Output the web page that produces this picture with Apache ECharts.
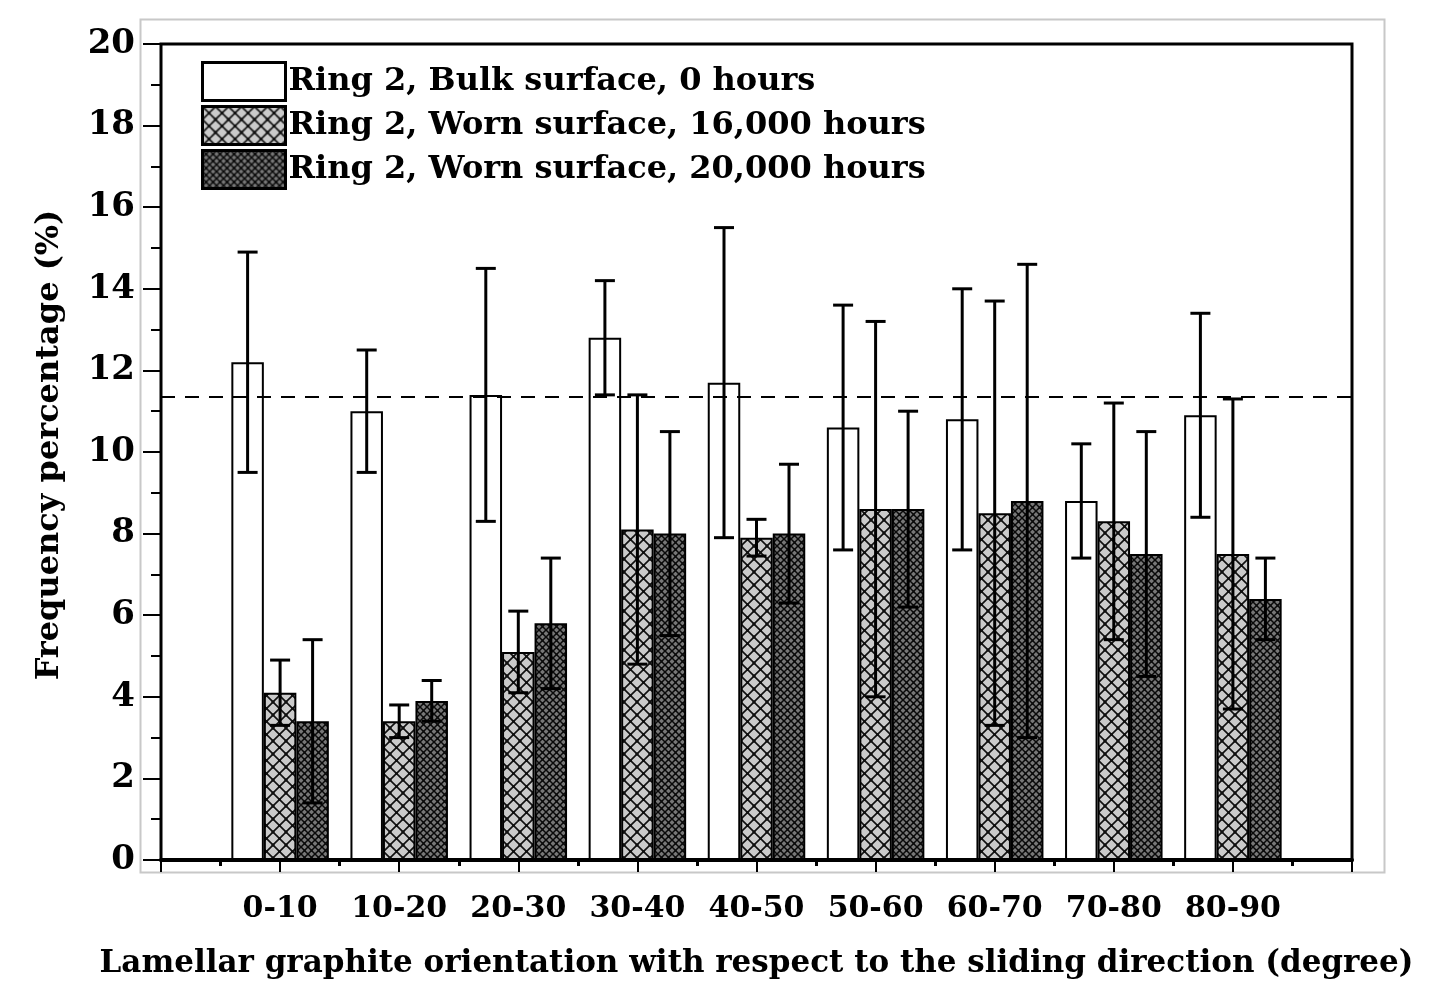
<!DOCTYPE html>
<html>
<head>
<meta charset="utf-8">
<script src="https://cdn.jsdelivr.net/npm/echarts@6/dist/echarts.min.js"></script>
<style>
html,body{margin:0;padding:0;background:#fff;}
#chart{width:1430px;height:981px;}
</style>
</head>
<body>
<div id="chart"></div>
<script>
// ---- data ----
const categories = ['0-10', '10-20', '20-30', '30-40', '40-50', '50-60', '60-70', '70-80', '80-90'];
const seriesNames = ['Ring 2, Bulk surface, 0 hours', 'Ring 2, Worn surface, 16,000 hours', 'Ring 2, Worn surface, 20,000 hours'];
const bulk0 = [12.2, 11.0, 11.4, 12.8, 11.7, 10.6, 10.8, 8.8, 10.9];
const bulk0Err = [2.7, 1.5, 3.1, 1.4, 3.8, 3.0, 3.2, 1.4, 2.5];
const worn16k = [4.1, 3.4, 5.1, 8.1, 7.9, 8.6, 8.5, 8.3, 7.5];
const worn16kErr = [0.8, 0.4, 1.0, 3.3, 0.45, 4.6, 5.2, 2.9, 3.8];
const worn20k = [3.4, 3.9, 5.8, 8.0, 8.0, 8.6, 8.8, 7.5, 6.4];
const worn20kErr = [2.0, 0.5, 1.6, 2.5, 1.7, 2.4, 5.8, 3.0, 1.0];
const referenceLevel = 11.35;
const yTicks = [0, 2, 4, 6, 8, 10, 12, 14, 16, 18, 20];

// ---- styles ----
const FONT = 'DejaVu Serif';
const BAR_W = 32.5;

function makePattern(size, bg, line, lw, dot) {
  const c = document.createElement('canvas');
  c.width = size; c.height = size;
  const g = c.getContext('2d');
  g.fillStyle = bg; g.fillRect(0, 0, size, size);
  g.strokeStyle = line; g.lineWidth = lw;
  g.beginPath();
  g.moveTo(0, 0); g.lineTo(size, size);
  g.moveTo(size, 0); g.lineTo(0, size);
  g.stroke();
  g.fillStyle = line;
  const h = size / 2, d = dot;
  g.fillRect(h - d / 2, h - d / 2, d, d);
  g.fillRect(0, 0, d / 2, d / 2); g.fillRect(size - d / 2, 0, d / 2, d / 2);
  g.fillRect(0, size - d / 2, d / 2, d / 2); g.fillRect(size - d / 2, size - d / 2, d / 2, d / 2);
  return { image: c, repeat: 'repeat' };
}
const greyPattern = makePattern(13, '#cacaca', '#101010', 1.6, 3);
const darkPattern = makePattern(7, '#777777', '#0a0a0a', 1.5, 2);

const values = [bulk0, worn16k, worn20k];
const errors = [bulk0Err, worn16kErr, worn20kErr];
const fills = ['#ffffff', greyPattern, darkPattern];

const series = [];
values.forEach((vals, k) => {
  const s = {
    name: seriesNames[k],
    type: 'bar',
    barWidth: BAR_W,
    barGap: '0%',
    data: vals.map((v, i) => [i + 1, v]),
    itemStyle: { color: fills[k], borderColor: '#000', borderWidth: 2 },
    emphasis: { disabled: true },
    z: 2
  };
  if (k === 0) {
    s.markLine = {
      silent: true, symbol: 'none', label: { show: false },
      lineStyle: { type: [14, 10], color: '#000', width: 2 },
      data: [{ yAxis: referenceLevel }],
      z: 6
    };
  }
  series.push(s);
});
values.forEach((vals, k) => {
  series.push({
    type: 'custom',
    name: 'err' + k,
    silent: true,
    z: 5,
    encode: { x: 0, y: 1 },
    data: vals.map((v, i) => [i + 1, v, errors[k][i]]),
    renderItem: function (params, api) {
      const x = api.value(0), v = api.value(1), e = api.value(2);
      const top = api.coord([x, v + e]);
      const bot = api.coord([x, v - e]);
      const px = top[0] + (k - 1) * BAR_W;
      const cap = 10;
      const st = { stroke: '#000', lineWidth: 3 };
      return {
        type: 'group',
        children: [
          { type: 'line', shape: { x1: px, y1: top[1], x2: px, y2: bot[1] }, style: st },
          { type: 'line', shape: { x1: px - cap, y1: top[1], x2: px + cap, y2: top[1] }, style: st },
          { type: 'line', shape: { x1: px - cap, y1: bot[1], x2: px + cap, y2: bot[1] }, style: st }
        ]
      };
    }
  });
});

const chart = echarts.init(document.getElementById('chart'), null, { renderer: 'canvas' });
chart.setOption({
  backgroundColor: '#ffffff',
  animation: false,
  textStyle: { fontFamily: FONT },
  graphic: [{
    type: 'rect', silent: true, z: -1,
    shape: { x: 140.5, y: 19.5, width: 1244, height: 853 },
    style: { fill: 'none', stroke: '#c8c8c8', lineWidth: 2 }
  }],
  grid: {
    left: 161, right: 78, top: 44, bottom: 121,
    containLabel: false, outerBoundsMode: 'none',
    show: true, borderColor: '#000', borderWidth: 3, backgroundColor: 'transparent'
  },
  legend: {
    orient: 'vertical', left: 196, top: 56,
    icon: 'rect', itemWidth: 83, itemHeight: 38, itemGap: 3,
    data: seriesNames,
    itemStyle: { borderColor: '#000', borderWidth: 3 },
    textStyle: { fontFamily: FONT, fontWeight: 'bold', fontSize: 32, color: '#000', padding: [5, 0, 0, -2] },
    selectedMode: false
  },
  xAxis: {
    type: 'value', min: 0, max: 10, interval: 1,
    name: 'Lamellar graphite orientation with respect to the sliding direction (degree)',
    nameLocation: 'middle', nameGap: 88,
    nameTextStyle: { fontFamily: FONT, fontWeight: 'bold', fontSize: 31, color: '#000' },
    axisLine: { show: true, onZero: false, lineStyle: { color: '#000', width: 4 } },
    axisTick: { show: true, inside: false, length: 12, lineStyle: { color: '#000', width: 2 } },
    minorTick: { show: true, splitNumber: 2, length: 6, lineStyle: { color: '#000', width: 3 } },
    splitLine: { show: false },
    axisLabel: {
      margin: 34, fontFamily: FONT, fontWeight: 'bold', fontSize: 30, color: '#000',
      formatter: function (v) { return categories[v - 1] || ''; }
    }
  },
  yAxis: {
    type: 'value', min: yTicks[0], max: yTicks[yTicks.length - 1], interval: yTicks[1] - yTicks[0],
    name: 'Frequency percentage (%)',
    nameLocation: 'middle', nameGap: 95, nameRotate: 90,
    nameTextStyle: { fontFamily: FONT, fontWeight: 'bold', fontSize: 32, color: '#000', padding: [0, 0, 0, 14] },
    axisLine: { show: true, lineStyle: { color: '#000', width: 2 } },
    axisTick: { show: true, inside: false, length: 18, lineStyle: { color: '#000', width: 2 } },
    minorTick: { show: true, splitNumber: 2, length: 10, lineStyle: { color: '#000', width: 2 } },
    splitLine: { show: false },
    axisLabel: { margin: 26, fontFamily: FONT, fontWeight: 'bold', fontSize: 34, color: '#000' }
  },
  series: series
});
</script>
</body>
</html>
